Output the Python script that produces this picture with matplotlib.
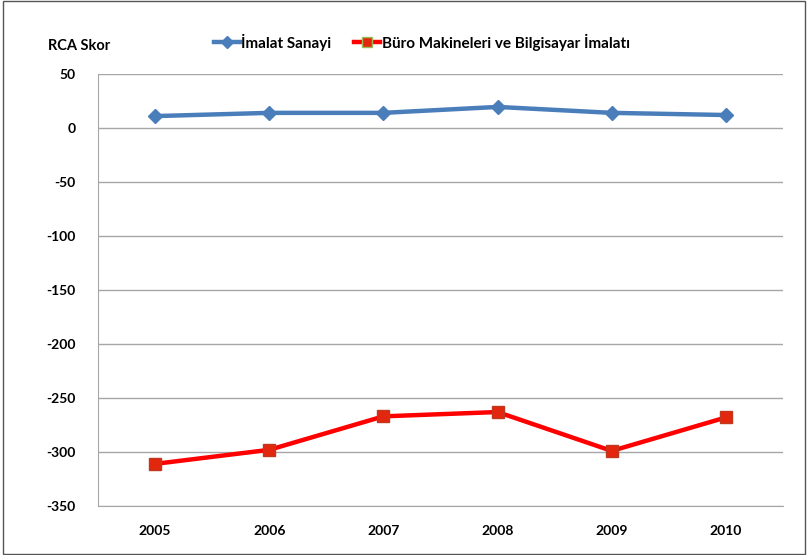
import matplotlib
matplotlib.use("Agg")
import matplotlib.pyplot as plt
from matplotlib.lines import Line2D
from matplotlib.patches import Rectangle

years = ["2005", "2006", "2007", "2008", "2009", "2010"]
imalat = [11, 14, 14, 19.5, 14, 12]
buro = [-311, -298, -267, -263, -299, -268]

plt.rcParams["font.family"] = ["Lato", "DejaVu Sans"]
plt.rcParams["font.weight"] = "bold"
plt.rcParams["axes.unicode_minus"] = False

fig = plt.figure(figsize=(8.08, 5.55), dpi=100)
ax = fig.add_axes([0.1213, 0.0883, 0.8477, 0.7784])

x = list(range(len(years)))
ax.plot(x, imalat, color="#4A7EBB", lw=3.2, marker="D", ms=7,
        mfc="#4A7EBB", mec="#4A7EBB", zorder=3)
ax.plot(x, buro, color="#FF0000", lw=3.2, marker="s", ms=8,
        mfc="#E3260E", mec="#C0391E", zorder=3)

ax.set_xlim(-0.5, len(years) - 0.5)
ax.set_ylim(-350, 50)
ax.set_yticks(range(-350, 51, 50))
ax.set_xticks(x)
ax.set_xticklabels(years)
ax.tick_params(length=0, labelsize=10, pad=14)
ax.tick_params(axis="y", pad=16)
ax.yaxis.grid(True, color="#A6A6A6", lw=1)
ax.set_axisbelow(True)
for s in ["top", "right"]:
    ax.spines[s].set_visible(False)
ax.spines["left"].set_color("#A6A6A6")
ax.spines["bottom"].set_color("#A6A6A6")
for lbl in ax.get_xticklabels() + ax.get_yticklabels():
    lbl.set_fontweight("bold")

fig.text(48 / 808, 1 - 46 / 555, "RCA Skor", fontsize=10.5, fontweight="bold",
         va="center", ha="left")

handles = [
    Line2D([], [], color="#4A7EBB", lw=3.2, marker="D", ms=6,
           mfc="#4A7EBB", mec="#4A7EBB"),
    Line2D([], [], color="#FF0000", lw=3.2, marker="s", ms=7,
           mfc="#E3260E", mec="#9BBB59"),
]
fig.legend(handles, ["İmalat Sanayi", "Büro Makineleri ve Bilgisayar İmalatı"],
           loc="center", bbox_to_anchor=(422 / 808, 1 - 42 / 555), ncol=2,
           frameon=False, handlelength=1.7, handletextpad=0.1,
           columnspacing=1.5, prop={"weight": "bold", "size": 11})

fig.patches.append(Rectangle((0.004, 0.002), 0.992, 0.996, transform=fig.transFigure,
                             fill=False, ec="#555555", lw=1))

fig.savefig("out.png", dpi=100)
